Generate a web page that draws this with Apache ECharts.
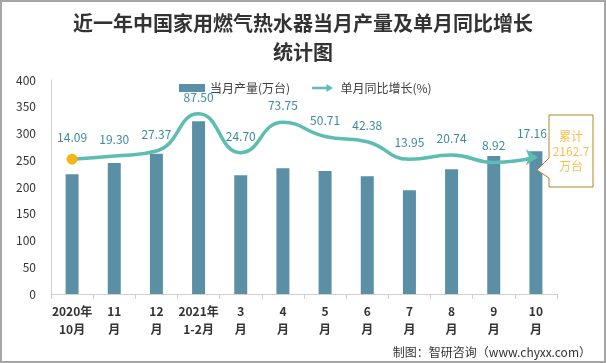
<!DOCTYPE html>
<html><head><meta charset="utf-8">
<script src="https://cdn.jsdelivr.net/npm/echarts@6/dist/echarts.min.js"></script>
<style>html,body{margin:0;padding:0;background:#fff}#c{width:606px;height:363px}</style>
</head><body><div id="c"></div>
<script>
const categories = ['2020年\n10月','11\n月','12\n月','2021年\n1-2月','3\n月','4\n月','5\n月','6\n月','7\n月','8\n月','9\n月','10\n月'];
const production = [224, 245, 262, 323, 222, 235, 230, 220, 194, 233, 258, 267];
const yoyGrowth = [14.09, 19.30, 27.37, 87.50, 24.70, 73.75, 50.71, 42.38, 13.95, 20.74, 8.92, 17.16];
const yTicks = [0, 50, 100, 150, 200, 250, 300, 350, 400];
const cumulativeText = '累计\n2162.7\n万台';

const FONT = '"Noto Sans CJK SC","Noto Sans",sans-serif';
const lineColor = '#5dbdb3';
const lineData = yoyGrowth.map((v, i) => {
  if (i === 0) return {value: v, symbol: 'circle', symbolSize: 11, itemStyle: {color: '#f5b51b'}};
  if (i === yoyGrowth.length - 1) return {value: v, symbol: 'arrow', symbolSize: [12, 12], symbolRotate: -90, symbolOffset: [2, 0], itemStyle: {color: lineColor}};
  return {value: v, symbol: 'circle', symbolSize: 1, itemStyle: {color: lineColor}};
});

const chart = echarts.init(document.getElementById('c'), null, {renderer: 'canvas'});
chart.setOption({
  animation: false,
  textStyle: {fontFamily: FONT},
  title: {
    text: '近一年中国家用燃气热水器当月产量及单月同比增长\n统计图',
    left: 'center', top: 4,
    textStyle: {fontSize: 20, fontWeight: 'bold', color: '#333', lineHeight: 29, fontFamily: FONT}
  },
  legend: {
    left: 174, top: 77, itemWidth: 26, itemHeight: 8, itemGap: 22,
    textStyle: {fontSize: 12, color: '#404040', fontFamily: FONT},
    data: [
      {name: '当月产量(万台)', icon: 'rect'},
      {name: '单月同比增长(%)', icon: 'path://M0,3.5L18,3.5L18,0L26,5L18,10L18,6.5L0,6.5Z', itemStyle: {color: lineColor}}
    ]
  },
  grid: {left: 51, right: 49, top: 80, bottom: 69, containLabel: false},
  xAxis: {
    type: 'category', data: categories, boundaryGap: true,
    axisLine: {lineStyle: {color: '#d0d0d0'}},
    axisTick: {show: true, interval: 0, length: 5, lineStyle: {color: '#d0d0d0'}},
    axisLabel: {interval: 0, fontSize: 12, fontWeight: 'bold', color: '#333', lineHeight: 18, margin: 8, fontFamily: FONT}
  },
  yAxis: [
    {
      type: 'value', min: yTicks[0], max: yTicks[yTicks.length - 1], interval: 50,
      axisLine: {show: true, lineStyle: {color: '#d0d0d0'}},
      axisTick: {show: false}, splitLine: {show: false},
      axisLabel: {fontSize: 12, color: '#333', margin: 15, fontFamily: FONT}
    },
    {type: 'value', min: -203.5, max: 142, show: false, splitLine: {show: false}}
  ],
  series: [
    {
      name: '当月产量(万台)', type: 'bar', data: production, barWidth: 13,
      itemStyle: {color: '#5b8fa6'}, z: 2
    },
    {
      name: '单月同比增长(%)', type: 'line', yAxisIndex: 1, data: lineData, smooth: 0.5,
      lineStyle: {color: lineColor, width: 3.5}, itemStyle: {color: lineColor},
      label: {show: true, position: 'top', distance: 10, fontSize: 12, color: '#3b8b9d', fontFamily: FONT,
        formatter: p => p.value.toFixed(2)},
      z: 3
    }
  ],
  graphic: [
    {type: 'polygon', z: 100,
      shape: {points: [[549,115],[593,115],[593,187],[549,187],[549,178],[537,170],[549,158]]},
      style: {fill: '#fff', stroke: '#b5852a', lineWidth: 1}},
    {type: 'text', z: 101, x: 571, y: 151,
      style: {text: cumulativeText, fill: '#f6c04d', font: '12px ' + FONT, align: 'center', verticalAlign: 'middle', lineHeight: 15}},
    {type: 'text', z: 101, x: 591, y: 352,
      style: {text: '制图：智研咨询（www.chyxx.com）', fill: '#333', font: '12px ' + FONT, align: 'right', verticalAlign: 'middle'}},
    {type: 'rect', z: 102, shape: {x: 1, y: 1, width: 604, height: 361},
      style: {fill: 'none', stroke: '#a6a6a6', lineWidth: 2}}
  ]
});
</script></body></html>
